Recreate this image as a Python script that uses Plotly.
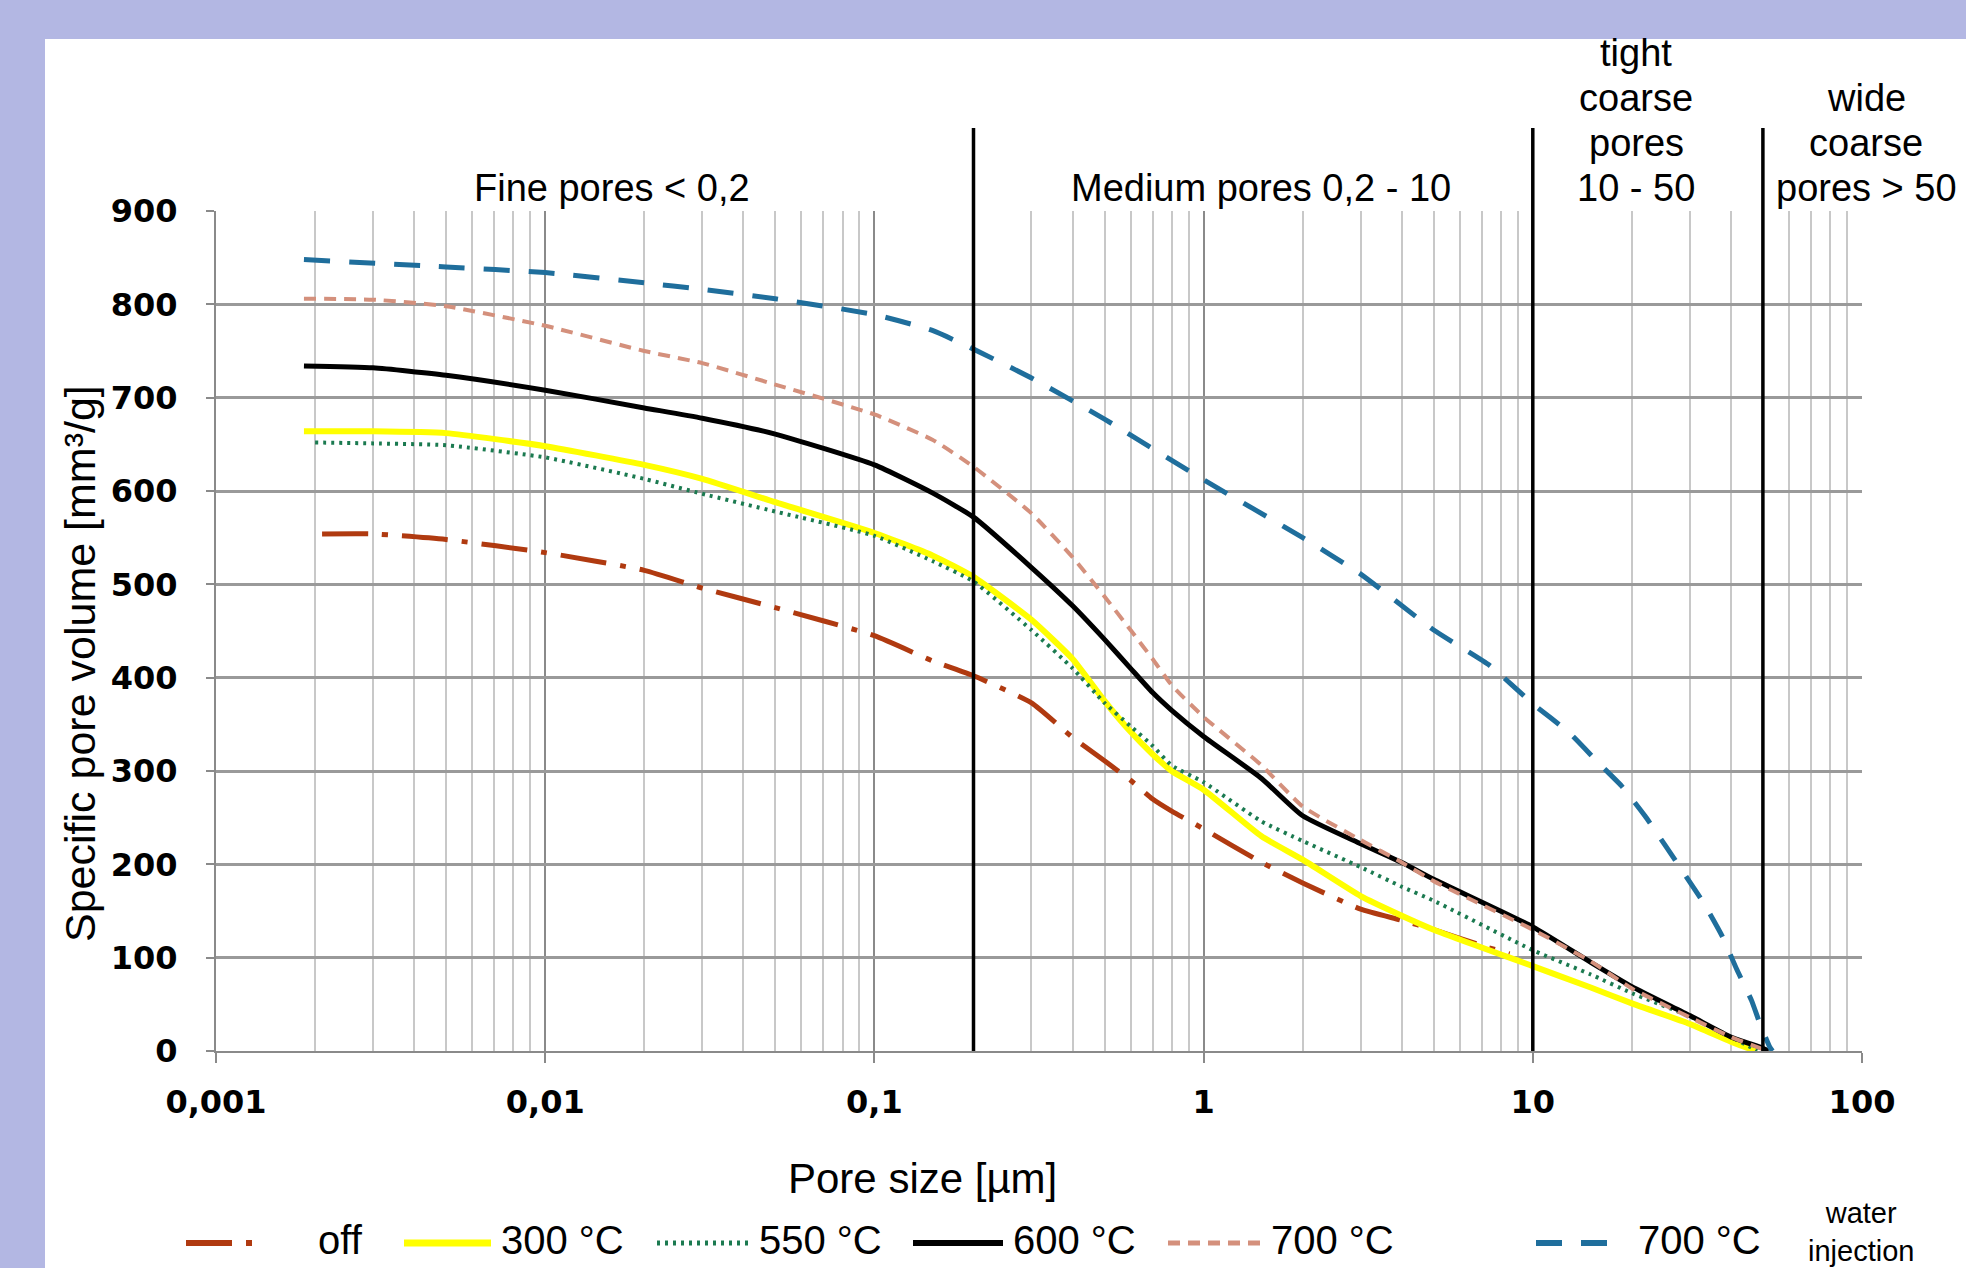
import plotly.graph_objects as go

# ---------------- data ----------------
x_off = [0.0021, 0.003, 0.005, 0.01, 0.02, 0.03, 0.05, 0.1, 0.15, 0.2, 0.3, 0.4, 0.5, 0.6, 0.7, 0.8, 1, 1.5, 2, 3, 4, 5, 7, 8.5]
y_off = [554, 554, 548, 534, 515, 496, 475, 445, 418, 402, 373, 336, 311, 290, 270, 257, 238, 202, 180, 152, 140, 130, 113, 104]

x_300 = [0.00185, 0.003, 0.005, 0.01, 0.02, 0.03, 0.05, 0.1, 0.15, 0.2, 0.3, 0.4, 0.5, 0.6, 0.7, 0.8, 1, 1.5, 2, 3, 4, 5, 10, 15, 20, 30, 40, 46, 48]
y_300 = [664, 664, 662, 648, 628, 613, 588, 555, 531, 508, 462, 420, 375, 342, 318, 300, 280, 230, 205, 166, 145, 130, 91, 68, 51, 29, 10, 2, 0]

x_550 = [0.002, 0.003, 0.005, 0.01, 0.02, 0.03, 0.05, 0.1, 0.15, 0.2, 0.3, 0.4, 0.5, 0.6, 0.7, 0.8, 1, 1.5, 2, 3, 4, 5, 10, 15, 20, 30, 40, 46, 48]
y_550 = [652, 651, 649, 636, 613, 597, 578, 552, 525, 503, 451, 410, 373, 348, 327, 306, 288, 246, 225, 197, 176, 161, 108, 82, 62, 37, 15, 4, 0]

x_600 = [0.00185, 0.003, 0.005, 0.01, 0.02, 0.03, 0.05, 0.1, 0.15, 0.2, 0.3, 0.4, 0.5, 0.6, 0.7, 0.8, 1, 1.5, 2, 3, 4, 5, 10, 15, 20, 30, 40, 50, 52]
y_600 = [734, 732, 724, 708, 689, 678, 661, 628, 598, 572, 518, 477, 441, 410, 384, 365, 337, 292, 252, 222, 202, 184, 133, 95, 69, 38, 15, 3, 0]

x_700 = [0.00185, 0.003, 0.005, 0.01, 0.02, 0.03, 0.05, 0.1, 0.15, 0.2, 0.3, 0.4, 0.5, 0.6, 0.7, 0.8, 1, 1.5, 2, 3, 4, 5, 10, 15, 20, 30, 40, 50, 52]
y_700 = [806, 805, 798, 777, 750, 737, 714, 682, 655, 626, 576, 529, 487, 451, 420, 392, 358, 306, 262, 226, 202, 182, 130, 96, 67, 36, 15, 2, 0]

x_700w = [0.00185, 0.005, 0.01, 0.02, 0.03, 0.05, 0.1, 0.15, 0.2, 0.3, 0.5, 1, 2, 3, 5, 7.4, 10, 12.9, 15.8, 18.6, 21.9, 25.4, 29.2, 33.1, 37.6, 41.7, 46.2, 49, 52.5, 53.5]
y_700w = [848, 840, 834, 823, 816, 806, 789, 772, 752, 721, 677, 612, 550, 511, 451, 413, 372, 341, 309, 284, 252, 219, 187, 158, 123, 87, 54, 29, 4, 0]

series_names = ["off", "300 °C", "550 °C", "600 °C", "700 °C", "700 °C"]
x_ticks = [0.001, 0.01, 0.1, 1, 10, 100]
x_ticktext = ["0,001", "0,01", "0,1", "1", "10", "100"]
y_ticks = [0, 100, 200, 300, 400, 500, 600, 700, 800, 900]
class_bounds = [0.2, 10, 50]

# ---------------- layout geometry ----------------
W, H = 1966, 1268
L, R, T, B = 216, 104, 211, 217
PW, PH = W - L - R, H - T - B


def px(xp):
    return (xp - L) / PW


def py(yp):
    return (H - B - yp) / PH


styles = [
    dict(color="#B03A10", width=5, dash="46px,14px,6px,14px"),
    dict(color="#FFFF00", width=6, dash="solid"),
    dict(color="#1B7A50", width=4, dash="3px,5px"),
    dict(color="#000000", width=5, dash="solid"),
    dict(color="#D4907C", width=4, dash="12px,8px"),
    dict(color="#1F6E9C", width=5, dash="26px,19px"),
]
xs = [x_off, x_300, x_550, x_600, x_700, x_700w]
ys = [y_off, y_300, y_550, y_600, y_700, y_700w]

fig = go.Figure()
for i in range(len(xs)):
    fig.add_trace(go.Scatter(x=xs[i], y=ys[i], mode="lines", name=series_names[i],
                             line=dict(shape="spline", smoothing=0.5, **styles[i]),
                             showlegend=False))

minor_vals = [m * 10 ** e for e in range(-3, 2) for m in range(2, 10)]

sans = "Liberation Sans, Arial, sans-serif"
tickfont = dict(family="DejaVu Sans, Verdana, sans-serif", size=32, color="black", weight="bold")

fig.update_layout(
    width=W, height=H,
    margin=dict(l=L, r=R, t=T, b=B, autoexpand=False),
    paper_bgcolor="#B3B7E3",
    plot_bgcolor="white",
    xaxis=dict(type="log", range=[-3, 2], tickmode="array", tickvals=x_ticks, ticktext=x_ticktext,
               showgrid=True, gridcolor="#8a8a8a", gridwidth=2,
               minor=dict(tickmode="array", tickvals=minor_vals, showgrid=True,
                          gridcolor="#c8c8c8", gridwidth=2, ticks=""),
               showline=True, linecolor="#8a8a8a", linewidth=2,
               ticks="outside", ticklen=10, tickcolor="#8a8a8a", tickwidth=2,
               tickfont=tickfont, ticklabelstandoff=12, zeroline=False),
    yaxis=dict(range=[0, 900], tickmode="array", tickvals=y_ticks,
               showgrid=True, gridcolor="#9a9a9a", gridwidth=2.5,
               showline=True, linecolor="#8a8a8a", linewidth=2,
               ticks="outside", ticklen=8, tickcolor="#8a8a8a", tickwidth=2,
               tickfont=tickfont, ticklabelstandoff=22, zeroline=False),
)

shapes = []
# white panel
shapes.append(dict(type="rect", xref="paper", yref="paper", x0=px(45), x1=px(2100), y0=py(1400), y1=py(39),
                   fillcolor="white", line=dict(width=0), layer="below"))
# class boundary lines
for b in class_bounds:
    shapes.append(dict(type="line", xref="x", yref="paper", x0=b, x1=b, y0=0, y1=py(128),
                       line=dict(color="black", width=3.5), layer="above"))

# legend samples
leg_y = py(1243)
leg_lines = [(186, 263), (404, 491), (657, 750), (913, 1003), (1168, 1261), (1536, 1611)]
for i, (a, b) in enumerate(leg_lines):
    st = styles[i]
    shapes.append(dict(type="line", xref="paper", yref="paper", x0=px(a), x1=px(b), y0=leg_y, y1=leg_y,
                       line=dict(color=st["color"], width=st["width"] + 1, dash=st["dash"])))
fig.update_layout(shapes=shapes)

annos = []


def label(text, xp, yp, size=38, **kw):
    annos.append(dict(text=text, x=px(xp), y=py(yp), xref="paper", yref="paper", showarrow=False,
                      font=dict(family=sans, size=size, color="black"), yanchor="middle", **kw))


label("Fine pores < 0,2", 612, 188, xanchor="center")
label("Medium pores 0,2 - 10", 1261, 188, xanchor="center")
for t, yy in zip(["tight", "coarse", "pores", "10 - 50"], [53, 98, 143, 188]):
    label(t, 1636, yy, xanchor="center")
for t, yy in zip(["wide", "coarse", "pores > 50"], [98, 143, 188]):
    label(t, 1866, yy, xanchor="center")
label("Specific pore volume [mm³/g]", 80, 664, size=43, xanchor="center", textangle=-90)
label("Pore size [µm]", 922, 1178, size=42, xanchor="center")
leg_text_x = [316, 499, 757, 1011, 1269, 1636]
for i, t in enumerate(series_names):
    label(t, leg_text_x[i], 1240, size=40, xanchor="left")
label("water<br>injection", 1861, 1232, size=29, xanchor="center")
fig.update_layout(annotations=annos)

fig.write_html("out.html", config={"displayModeBar": False},
               post_script="document.body.style.margin='0';document.body.style.padding='0';"
                           "document.body.style.overflow='hidden';")
